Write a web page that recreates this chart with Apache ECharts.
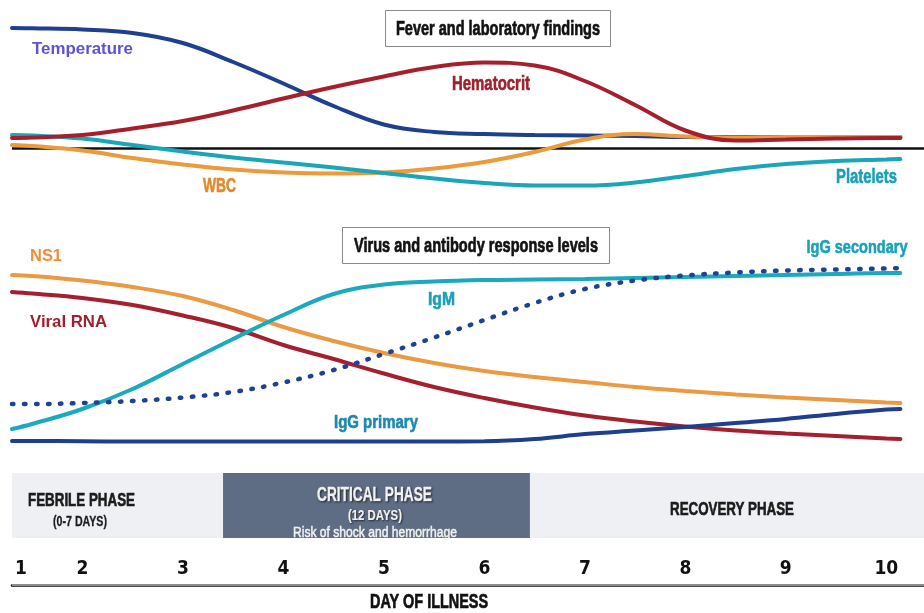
<!DOCTYPE html>
<html><head><meta charset="utf-8">
<script src="https://cdn.jsdelivr.net/npm/echarts@6/dist/echarts.min.js"></script>
<style>html,body{margin:0;padding:0;background:#fff}#c{width:924px;height:613px}</style>
</head><body><div id="c"></div>
<script>
// ---- data (day of illness on x; relative level 0-100 on y) ----
const days = [1.3,1.5,2,2.5,3,3.5,4,4.5,5,5.5,6,6.5,7,7.5,8,8.5,9,9.5,10,10.14];
// Fever and laboratory findings
const temperature = [86,85.85,85.25,83.5,78.5,69,58.25,47,37.75,34,33,32.5,32.25,32,31.5,31.5,31.5,31.5,31.5,31.5];
const hematocrit  = [31,31.25,32.5,35.75,39.5,44.75,50.75,56.5,61.75,66.5,68.75,67.25,59.5,47.5,34.75,29.75,30.25,30.75,31,31];
const wbc         = [27.5,27,24.75,21,17.75,15.25,13.75,13.25,13.75,15.75,19,24,30.25,33,31.75,31.25,31.5,31.5,31.5,31.5];
const platelets   = [32.5,32.25,30.75,27.5,24.25,21.25,18.75,16.25,13.5,10.75,8.5,7.25,7.25,8.75,12,15.5,18,19.5,20.25,20.5];
const normalLevel = 25.75;
// Virus and antibody response levels
const ns1          = [77.08,76.67,74.79,72.08,68.33,62.5,55.42,49.58,44.58,40.42,37.08,34.58,32.5,30.42,28.75,27.29,26.04,25,23.96,23.75];
const viralRNA     = [70,69.38,67.5,64.58,60.21,55,47.92,42.08,36.04,30.42,25.83,21.88,18.54,16.04,13.96,12.29,11.04,10,8.96,8.75];
const igM          = [12.92,15,21.25,29.58,40,50.42,60.42,69.17,73.13,74.38,75,75.21,75.42,75.83,76.25,76.67,77.08,77.5,77.92,77.92];
const igGPrimary   = [7.9,7.9,7.8,7.7,7.7,7.7,7.7,7.7,7.7,7.7,7.8,8.75,10.8,12.3,13.75,15.4,17.1,19.2,21,21.25];
const igGSecondary = [23.33,23.33,23.75,24.58,26.04,28.33,32.29,37.5,44.17,51.04,58.33,65.42,71.25,74.79,76.88,78.13,78.96,79.38,79.79,80];
// phases
const phaseNames = ['FEBRILE PHASE','CRITICAL PHASE','RECOVERY PHASE'];
const phaseSubs  = ['(0-7 DAYS)','(12 DAYS)',''];
const phaseNote  = 'Risk of shock and hemorrhage';
const phaseStart = [1.3, 3.4, 6.454];
const phaseEnd   = [3.4, 6.454, 10.375];
// x-axis ticks
const tickLabels = ['1','2','3','4','5','6','7','8','9','10'];
const tickDays   = [1.39,2,3,4,5,6,7,8,9,10];

// ---- chart ----
const X_MIN = 1.3, X_MAX = 10.375;
const SANS = "'Liberation Sans',Arial,sans-serif";
const zip = a => days.map((d,i)=>[d,a[i]]);
const hiddenX = g => ({type:'value',gridIndex:g,min:X_MIN,max:X_MAX,axisLine:{show:false},axisTick:{show:false},axisLabel:{show:false},splitLine:{show:false}});
const hiddenY = g => ({type:'value',gridIndex:g,min:0,max:100,axisLine:{show:false},axisTick:{show:false},axisLabel:{show:false},splitLine:{show:false}});
const line = (name,data,color,xi,extra) => Object.assign({
  name,type:'line',xAxisIndex:xi,yAxisIndex:xi,data:zip(data),smooth:0.4,symbol:'none',
  lineStyle:{color,width:4,cap:'round'},silent:true
},extra||{});

// text fitted to a width (condensed look via horizontal scale)
const mctx = document.createElement('canvas').getContext('2d');
function fit(text, cx, cy, size, w, fill, extra, weight, heavy){
  const font = `${weight||'bold'} ${size}px ${SANS}`;
  mctx.font = font;
  const s = w / mctx.measureText(text).width;
  const st = {text,x:0,y:0,font,fill,align:'center',verticalAlign:'middle',textAlign:'center',textVerticalAlign:'middle'};
  if (heavy) { st.stroke = fill; st.lineWidth = heavy; }
  return {type:'text',z:100,x:cx,y:cy,scaleX:s,scaleY:1,style:Object.assign(st,extra||{})};
}
const shadow = {textShadowColor:'rgba(0,0,0,0.6)',textShadowBlur:2,textShadowOffsetX:1,textShadowOffsetY:1};

const option = {
  animation:false,
  backgroundColor:'#ffffff',
  grid:[
    {left:12,right:0,top:0,height:200},
    {left:12,right:0,top:220,height:240},
    {left:12,right:0,top:473,height:65},
    {left:12,right:0,top:552,height:33},
    {left:12,right:0,top:552,height:17}
  ],
  xAxis:[
    hiddenX(0),hiddenX(1),hiddenX(2),
    {type:'value',gridIndex:3,min:X_MIN,max:X_MAX,position:'top',
      axisLine:{show:true,lineStyle:{color:'#111',width:2.5}},axisTick:{show:false},axisLabel:{show:false},splitLine:{show:false}},
    {type:'value',gridIndex:4,min:X_MIN,max:X_MAX,position:'bottom',
      axisLine:{show:false},axisTick:{show:false},splitLine:{show:false},
      axisLabel:{show:true,customValues:tickDays,margin:0,verticalAlign:'middle',
        fontFamily:"'DejaVu Sans Condensed','Liberation Sans',sans-serif",fontWeight:'bold',fontSize:19,color:'#111',
        formatter:v=>{const i=tickDays.findIndex(t=>Math.abs(t-v)<1e-6);return i>=0?tickLabels[i]:'';}}}
  ],
  yAxis:[hiddenY(0),hiddenY(1),hiddenY(2),hiddenY(3),hiddenY(4)],
  series:[
    {type:'line',xAxisIndex:0,yAxisIndex:0,data:[[X_MIN,normalLevel],[X_MAX,normalLevel]],symbol:'none',
      lineStyle:{color:'#111',width:2.5},silent:true},
    line('Temperature',temperature,'#1f3f8f',0),
    line('WBC',wbc,'#eb9a3c',0),
    line('Platelets',platelets,'#1aa5b9',0),
    line('Hematocrit',hematocrit,'#a51f2d',0),
    line('NS1',ns1,'#e99a42',1),
    line('Viral RNA',viralRNA,'#a3202e',1),
    line('IgG primary',igGPrimary,'#1e3e8e',1),
    line('IgM',igM,'#1ba9bd',1),
    line('IgG secondary',igGSecondary,'#1e4192',1,{lineStyle:{color:'#1e4192',width:4.5,type:[1.5,10.5],cap:'round'}}),
    {type:'line',xAxisIndex:2,yAxisIndex:2,data:[],silent:true,
      markArea:{silent:true,label:{show:false},
        data:phaseNames.map((n,i)=>[{xAxis:phaseStart[i],yAxis:0,itemStyle:{color:i===1?'#5e6d84':'#eef0f3',opacity:1}},{xAxis:phaseEnd[i],yAxis:100}])}}
  ],
  graphic:[
    {type:'rect',z:90,shape:{x:385.5,y:10.5,width:225,height:36},style:{fill:'#fff',stroke:'#8a8a8a',lineWidth:1}},
    fit('Fever and laboratory findings',498,29,20.5,204,'#111',null,'bold',0.7),
    {type:'rect',z:90,shape:{x:342.5,y:227.5,width:267,height:36},style:{fill:'#fff',stroke:'#8a8a8a',lineWidth:1}},
    fit('Virus and antibody response levels',476,246,20,244,'#111',null,'bold',0.7),
    fit('Temperature',82.5,49,17,101,'#5b54d4'),
    fit('Hematocrit',491,84,20,78,'#a0202c',null,'bold',0.6),
    fit('WBC',219.5,186,20.5,33,'#e08a2c',null,'bold',0.6),
    fit('Platelets',866.5,177,20,61,'#1a9fb5',null,'bold',0.6),
    fit('NS1',46,256,16.5,32,'#f08c3a'),
    fit('Viral RNA',68.5,322,16.5,77,'#9e1f2e'),
    fit('IgM',441.5,300,18.5,27,'#1b9fb6',null,'bold',0.6),
    fit('IgG primary',376,423,18.5,84,'#1b88b0',null,'bold',0.6),
    fit('IgG secondary',857,248,19,101,'#1aa0b8',null,'bold',0.6),
    fit(phaseNames[0],81.5,501,17.5,107,'#1c1c1c',null,'bold',0.6),
    fit(phaseSubs[0],80,522,14,54,'#1c1c1c',null,'bold',0.3),
    fit(phaseNames[1],374.5,495,20,115,'#f2f2f2',shadow,'bold',0.5),
    fit(phaseSubs[1],375,516,15,54,'#f2f2f2',shadow,'bold',0.2),
    fit(phaseNote,375,533,15,164,'#f2f2f2',null,'normal',0.5),
    fit(phaseNames[2],732,510,17.5,124,'#1c1c1c',null,'bold',0.6),
    fit('DAY OF ILLNESS',429,602,21,118,'#111',null,'bold',0.7),
    {type:'line',z:95,shape:{x1:12,y1:585,x2:924,y2:585},style:{stroke:'#8c8c8c',lineWidth:2}}
  ]
};
const chart = echarts.init(document.getElementById('c'),null,{renderer:'canvas'});
chart.setOption(option);
</script></body></html>
